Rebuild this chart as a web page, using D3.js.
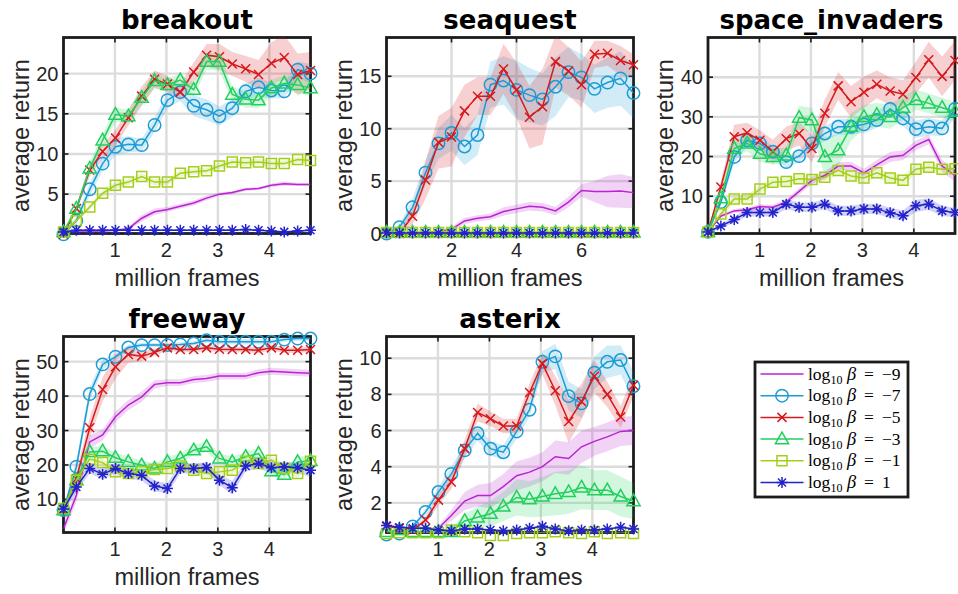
<!DOCTYPE html>
<html>
<head>
<meta charset="utf-8">
<script src="https://cdn.jsdelivr.net/npm/d3@7"></script>
<style>
  body { margin: 0; background: #fff; }
  svg { display: block; }
</style>
</head>
<body>
<div id="chart"></div>
<script>
// frame axis (million frames)
const frames48 = [0, 0.25, 0.51, 0.76, 1.01, 1.26, 1.52, 1.77, 2.02, 2.27, 2.53, 2.78, 3.03, 3.28, 3.54, 3.79, 4.04, 4.29, 4.55, 4.8];
const frames76 = [0, 0.4, 0.8, 1.2, 1.6, 2.0, 2.4, 2.8, 3.2, 3.6, 4.0, 4.4, 4.8, 5.2, 5.6, 6.0, 6.4, 6.8, 7.2, 7.6];

const betaLabels = ["\u22129", "\u22127", "\u22125", "\u22123", "\u22121", "1"];
const seriesColors = ["#bb22d4", "#1a9cd6", "#d7191c", "#1fd15b", "#a3cf1b", "#2323cc"];
const seriesMarkers = ["none", "circle", "cross", "triangle", "square", "star"];

const gameNames = ["breakout", "seaquest", "space_invaders", "freeway", "asterix"];
const gameXMax = [4.8, 7.6, 4.8, 4.8, 4.8];
const gameYDomain = [[0.1, 24.5], [0, 18.7], [0.6, 50], [0.4, 57.3], [0.36, 11.2]];
const gameXTicks = [[1, 2, 3, 4], [2, 4, 6], [1, 2, 3, 4], [1, 2, 3, 4], [1, 2, 3, 4]];
const gameYTicks = [[5, 10, 15, 20], [0, 5, 10, 15], [10, 20, 30, 40], [10, 20, 30, 40, 50], [2, 4, 6, 8, 10]];

// mean returns, order: log10 beta = -9, -7, -5, -3, -1, 1
const breakoutMean = [
  [0.3, 0.4, 0.4, 0.4, 0.5, 0.7, 2.0, 2.8, 3.1, 3.5, 3.9, 4.5, 5.0, 5.2, 5.6, 5.7, 6.1, 6.3, 6.2, 6.2],
  [0, 1.7, 5.6, 8.8, 10.9, 11.2, 11.1, 13.6, 16.7, 17.7, 16.0, 15.5, 14.7, 15.7, 17.8, 18.3, 17.9, 17.8, 20.5, 20.0],
  [0, 3.2, 8.0, 10.3, 12.0, 14.5, 17.2, 19.3, 18.7, 17.7, 20.2, 22.3, 22.1, 21.2, 20.6, 19.9, 21.3, 22.0, 19.9, 20.4],
  [0.3, 3.2, 8.2, 11.7, 14.9, 14.7, 17.0, 19.1, 18.6, 19.2, 18.0, 21.5, 21.5, 17.4, 16.8, 16.7, 18.2, 18.8, 18.6, 18.2],
  [0.3, 1.7, 3.4, 5.1, 6.1, 6.5, 7.2, 6.5, 6.5, 7.6, 7.8, 7.9, 8.5, 9.0, 8.9, 9.0, 8.8, 8.8, 9.3, 9.2],
  [0.3, 0.5, 0.5, 0.5, 0.5, 0.5, 0.5, 0.5, 0.5, 0.5, 0.5, 0.5, 0.5, 0.5, 0.6, 0.5, 0.4, 0.3, 0.4, 0.5]
];
const breakoutSpread = [
  [0.1, 0.1, 0.1, 0.1, 0.1, 0.2, 0.4, 0.4, 0.3, 0.3, 0.3, 0.3, 0.2, 0.2, 0.2, 0.2, 0.2, 0.3, 0.2, 0.2],
  [0.2, 0.5, 0.8, 0.9, 1.1, 1.0, 0.8, 0.9, 1.0, 1.1, 1.3, 1.3, 1.2, 1.1, 1.0, 1.2, 1.0, 0.9, 1.0, 1.2],
  [0.2, 0.4, 0.8, 0.9, 1.0, 1.0, 1.2, 1.1, 1.0, 1.0, 1.2, 1.4, 1.6, 1.5, 1.6, 1.8, 2.6, 2.8, 2.6, 2.3],
  [0.2, 0.4, 0.7, 0.8, 0.9, 0.8, 0.9, 0.9, 0.8, 0.8, 0.8, 1.0, 1.1, 1.0, 1.0, 1.0, 1.0, 1.0, 1.0, 1.0],
  [0.1, 0.2, 0.3, 0.4, 0.4, 0.4, 0.4, 0.4, 0.4, 0.4, 0.4, 0.4, 0.4, 0.4, 0.4, 0.4, 0.4, 0.4, 0.4, 0.4],
  [0.1, 0.1, 0.1, 0.1, 0.1, 0.1, 0.1, 0.1, 0.1, 0.1, 0.1, 0.1, 0.1, 0.1, 0.1, 0.1, 0.1, 0.1, 0.1, 0.1]
];

const seaquestMean = [
  [0, 0, 0, 0.1, 0.2, 0.4, 1.2, 1.45, 1.6, 2.1, 2.35, 2.6, 2.5, 2.15, 3.0, 4.1, 4.0, 4.0, 4.05, 3.9],
  [0, 0.6, 2.5, 5.8, 8.6, 9.6, 8.3, 9.4, 14.2, 14.6, 13.7, 13.2, 12.8, 14.0, 15.4, 14.9, 13.8, 14.4, 14.8, 13.4],
  [0, 0, 1.65, 5.1, 8.7, 9.2, 11.7, 13.1, 13.1, 15.7, 13.7, 11.1, 12.1, 16.4, 15.5, 14.2, 17.1, 17.2, 16.5, 16.1],
  [0.1, 0.1, 0.1, 0.1, 0.1, 0.1, 0.1, 0.1, 0.1, 0.1, 0.1, 0.1, 0.1, 0.1, 0.1, 0.1, 0.1, 0.1, 0.1, 0.1],
  [0.1, 0.1, 0.1, 0.1, 0.1, 0.1, 0.1, 0.1, 0.1, 0.1, 0.1, 0.1, 0.1, 0.1, 0.1, 0.1, 0.1, 0.1, 0.1, 0.1],
  [0.05, 0.05, 0.05, 0.05, 0.05, 0.05, 0.05, 0.05, 0.05, 0.05, 0.05, 0.05, 0.05, 0.05, 0.05, 0.05, 0.05, 0.05, 0.05, 0.05]
];
const seaquestSpread = [
  [0, 0, 0, 0.1, 0.1, 0.2, 0.3, 0.3, 0.3, 0.4, 0.4, 0.4, 0.4, 0.4, 0.5, 0.6, 1.0, 1.5, 1.6, 1.5],
  [0.1, 0.3, 0.8, 1.2, 1.5, 1.7, 1.8, 1.9, 2.2, 2.3, 2.8, 2.6, 2.5, 2.8, 2.4, 2.2, 2.3, 2.4, 2.6, 2.4],
  [0.1, 0.3, 0.8, 1.8, 2.5, 2.8, 2.5, 1.8, 1.8, 2.4, 2.6, 3.0, 3.6, 2.5, 2.3, 2.2, 1.3, 1.2, 1.4, 1.0],
  [0.1, 0.1, 0.1, 0.1, 0.1, 0.1, 0.1, 0.1, 0.1, 0.1, 0.1, 0.1, 0.1, 0.1, 0.1, 0.1, 0.1, 0.1, 0.1, 0.1],
  [0.1, 0.1, 0.1, 0.1, 0.1, 0.1, 0.1, 0.1, 0.1, 0.1, 0.1, 0.1, 0.1, 0.1, 0.1, 0.1, 0.1, 0.1, 0.1, 0.1],
  [0.05, 0.05, 0.05, 0.05, 0.05, 0.05, 0.05, 0.05, 0.05, 0.05, 0.05, 0.05, 0.05, 0.05, 0.05, 0.05, 0.05, 0.05, 0.05, 0.05]
];

const spaceMean = [
  [1.0, 5.0, 6.3, 6.6, 7.4, 7.2, 8.5, 11.2, 14.0, 15.2, 17.6, 17.6, 15.9, 17.9, 19.9, 20.3, 22.8, 24.3, 17.6, 15.2],
  [1.0, 8.5, 19.9, 24.1, 23.3, 21.2, 18.6, 20.1, 23.3, 25.8, 27.5, 27.5, 28.1, 29.2, 32.0, 29.6, 26.9, 27.5, 27.1, 32.0],
  [1.0, 12.3, 25.0, 26.0, 24.1, 21.2, 24.5, 25.8, 22.0, 30.9, 37.8, 33.8, 36.2, 38.2, 36.5, 35.7, 39.9, 44.4, 40.2, 44.2],
  [1.0, 9.5, 22.0, 23.3, 20.7, 19.9, 20.3, 29.8, 29.2, 19.9, 21.6, 27.5, 30.0, 30.5, 30.0, 32.3, 34.3, 33.4, 32.3, 31.3],
  [1.0, 5.5, 9.3, 9.3, 11.8, 13.5, 13.7, 14.4, 14.2, 14.8, 16.5, 15.1, 14.6, 15.9, 14.6, 14.0, 16.8, 17.3, 16.8, 16.9],
  [1.0, 2.5, 4.1, 5.9, 5.9, 5.9, 8.0, 7.2, 7.2, 8.0, 6.3, 6.3, 6.8, 6.8, 5.8, 5.1, 7.6, 8.0, 6.3, 5.9]
];
const spaceSpread = [
  [0.2, 0.5, 0.5, 0.6, 0.6, 0.6, 0.7, 0.8, 0.9, 1.0, 1.0, 1.0, 1.0, 1.2, 1.3, 1.2, 1.2, 1.2, 1.5, 1.5],
  [0.2, 1.0, 1.5, 1.5, 1.5, 1.5, 1.5, 1.5, 1.5, 1.8, 2.0, 2.0, 2.2, 2.0, 2.0, 2.0, 2.2, 2.2, 2.0, 2.0],
  [0.2, 1.5, 3.0, 2.5, 2.5, 3.0, 3.0, 3.0, 3.5, 3.5, 3.5, 4.0, 4.0, 3.5, 3.5, 3.5, 4.0, 4.5, 5.0, 5.0],
  [0.2, 1.5, 2.0, 2.0, 2.0, 2.0, 2.0, 3.0, 3.0, 5.0, 4.0, 3.5, 3.0, 3.0, 3.0, 3.0, 2.5, 2.5, 2.5, 2.5],
  [0.2, 0.8, 1.0, 1.0, 1.0, 1.0, 1.0, 1.0, 1.0, 1.0, 1.2, 1.2, 1.2, 1.3, 1.3, 1.3, 1.2, 1.2, 1.2, 1.2],
  [0.1, 0.5, 0.8, 1.0, 1.0, 1.0, 1.2, 1.2, 1.2, 1.3, 1.3, 1.3, 1.3, 1.3, 1.3, 1.3, 1.5, 1.5, 1.3, 1.2]
];

const freewayMean = [
  [1.5, 11.2, 26.7, 28.7, 34.0, 37.4, 39.8, 43.4, 43.9, 43.9, 44.8, 45.1, 45.8, 45.8, 45.8, 46.8, 47.2, 47.0, 46.8, 46.6],
  [6.9, 19.5, 40.6, 49.2, 51.4, 54.1, 54.8, 54.8, 54.8, 55.0, 55.3, 56.2, 55.8, 55.8, 55.8, 55.8, 55.8, 56.4, 56.7, 56.7],
  [6.9, 16.0, 30.8, 41.9, 48.5, 52.1, 51.6, 52.7, 54.0, 53.5, 53.5, 54.0, 53.6, 53.5, 53.5, 53.3, 54.0, 53.3, 53.3, 53.5],
  [6.9, 15.6, 23.8, 24.0, 22.1, 20.9, 19.9, 19.0, 20.9, 21.9, 24.3, 25.3, 21.9, 20.9, 22.4, 23.3, 18.2, 17.2, 20.9, 21.2],
  [7.4, 15.6, 21.7, 20.7, 18.0, 17.5, 18.0, 18.7, 19.0, 19.7, 18.5, 17.5, 18.0, 18.5, 21.1, 20.4, 21.4, 19.0, 17.5, 21.1],
  [7.2, 13.6, 19.0, 17.3, 19.0, 17.5, 17.0, 13.9, 13.2, 19.0, 19.0, 19.3, 15.6, 13.4, 19.7, 20.4, 19.2, 19.5, 19.2, 18.5]
];
const freewaySpread = [
  [1.5, 2.0, 2.0, 1.5, 1.5, 1.5, 1.5, 1.2, 1.0, 1.0, 1.0, 1.0, 1.0, 1.0, 1.0, 1.0, 1.0, 1.0, 1.0, 1.0],
  [1.0, 2.0, 2.0, 1.5, 1.0, 0.8, 0.6, 0.6, 0.6, 0.6, 0.6, 0.8, 0.8, 0.8, 0.8, 0.8, 0.8, 0.6, 0.6, 0.6],
  [1.0, 2.0, 3.0, 3.5, 3.5, 2.5, 1.5, 1.0, 0.8, 0.8, 0.8, 0.8, 0.8, 0.8, 0.8, 0.8, 0.8, 0.8, 0.8, 0.8],
  [1.0, 1.5, 1.5, 1.5, 1.5, 1.5, 1.5, 1.5, 1.5, 1.5, 1.5, 1.5, 1.5, 1.5, 1.5, 1.5, 1.5, 1.5, 1.5, 1.5],
  [1.0, 1.2, 1.2, 1.2, 1.2, 1.2, 1.2, 1.2, 1.2, 1.2, 1.2, 1.2, 1.2, 1.2, 1.2, 1.2, 1.2, 1.2, 1.2, 1.2],
  [1.0, 1.5, 1.5, 1.5, 1.5, 1.5, 1.5, 1.5, 1.5, 1.5, 1.5, 1.5, 1.5, 2.0, 1.5, 1.5, 1.5, 1.5, 1.5, 2.0]
];

const asterixMean = [
  [0.4, 0.4, 0.4, 0.4, 0.6, 1.3, 2.1, 2.4, 2.4, 2.9, 3.5, 3.7, 4.0, 4.55, 4.45, 5.1, 5.4, 5.65, 5.95, 6.0],
  [0.25, 0.3, 0.7, 1.5, 2.6, 3.6, 4.9, 5.85, 5.0, 4.8, 5.95, 7.15, 9.8, 10.1, 7.9, 7.5, 9.2, 9.8, 9.9, 8.45],
  [0.7, 0.6, 0.5, 1.05, 2.15, 3.15, 5.0, 7.0, 6.65, 6.25, 6.25, 8.1, 9.7, 8.2, 6.5, 7.6, 9.0, 8.0, 6.75, 8.5],
  [0.4, 0.5, 0.4, 0.4, 0.4, 0.4, 1.0, 1.2, 1.4, 1.8, 2.3, 2.2, 2.35, 2.5, 2.6, 2.85, 2.7, 2.7, 2.35, 2.1],
  [0.3, 0.35, 0.35, 0.35, 0.35, 0.5, 0.4, 0.35, 0.2, 0.2, 0.3, 0.35, 0.35, 0.4, 0.35, 0.3, 0.4, 0.3, 0.35, 0.3],
  [0.75, 0.65, 0.6, 0.6, 0.5, 0.45, 0.55, 0.55, 0.5, 0.45, 0.5, 0.6, 0.7, 0.55, 0.45, 0.5, 0.5, 0.55, 0.65, 0.55]
];
const asterixSpread = [
  [0.05, 0.05, 0.05, 0.05, 0.1, 0.3, 0.5, 0.6, 0.7, 0.7, 0.8, 0.8, 0.8, 0.9, 0.9, 0.9, 0.8, 0.8, 0.8, 0.8],
  [0.05, 0.05, 0.1, 0.2, 0.3, 0.4, 0.4, 0.4, 0.4, 0.4, 0.4, 0.4, 0.6, 0.7, 0.8, 0.8, 0.9, 0.9, 0.8, 0.8],
  [0.05, 0.05, 0.1, 0.2, 0.3, 0.4, 0.5, 0.5, 0.4, 0.4, 0.4, 0.5, 0.6, 0.8, 1.2, 1.0, 0.9, 0.7, 0.6, 0.6],
  [0.05, 0.05, 0.05, 0.05, 0.1, 0.2, 0.4, 0.6, 0.7, 0.8, 1.0, 1.0, 1.1, 1.2, 1.2, 1.2, 1.1, 1.1, 1.1, 1.0],
  [0.05, 0.05, 0.05, 0.05, 0.05, 0.05, 0.05, 0.05, 0.05, 0.05, 0.05, 0.05, 0.05, 0.05, 0.05, 0.05, 0.05, 0.05, 0.05, 0.05],
  [0.05, 0.05, 0.05, 0.05, 0.05, 0.05, 0.05, 0.05, 0.05, 0.05, 0.05, 0.05, 0.05, 0.05, 0.05, 0.05, 0.05, 0.05, 0.05, 0.05]
];

const gameMeans = [breakoutMean, seaquestMean, spaceMean, freewayMean, asterixMean];
const gameSpreads = [breakoutSpread, seaquestSpread, spaceSpread, freewaySpread, asterixSpread];
const gameFrames = [frames48, frames76, frames48, frames48, frames48];

// layout
const width = 958, height = 594;
const colLeft = [63.5, 386.5, 708];
const rowTop = [37.5, 336.5];
const boxW = 247, boxH = 196;
const panelPos = [[0, 0], [1, 0], [2, 0], [0, 1], [1, 1]];

const svg = d3.select('#chart')
  .append('svg')
  .attr('width', width)
  .attr('height', height);

function markerPath(type) {
  if (type === 'cross') return 'M-4.5,-4.5L4.5,4.5M-4.5,4.5L4.5,-4.5';
  if (type === 'triangle') return 'M0,-7L6.6,4.6L-6.6,4.6Z';
  if (type === 'square') return 'M-5,-5H5V5H-5Z';
  if (type === 'star') return 'M-5.5,0H5.5M0,-5.5V5.5M-4,-4L4,4M-4,4L4,-4';
  return null;
}

function drawMarker(g, type, color, x, y) {
  if (type === 'none') return;
  if (type === 'circle') {
    g.append('circle')
      .attr('cx', x).attr('cy', y).attr('r', 6.2)
      .attr('fill', 'none').attr('stroke', color).attr('stroke-width', 1.5);
  } else {
    g.append('path')
      .attr('d', markerPath(type))
      .attr('transform', `translate(${x},${y})`)
      .attr('fill', 'none').attr('stroke', color).attr('stroke-width', 1.5);
  }
}

const axisColor = '#1c1c1c';
const labelFont = '"Liberation Sans", Arial, sans-serif';

gameNames.forEach((name, gi) => {
  const left = colLeft[panelPos[gi][0]];
  const top = rowTop[panelPos[gi][1]];
  const frames = gameFrames[gi];

  const xScale = d3.scaleLinear().domain([0, gameXMax[gi]]).range([left, left + boxW]);
  const yScale = d3.scaleLinear().domain(gameYDomain[gi]).range([top + boxH, top]);

  const panel = svg.append('g');

  panel.append('clipPath').attr('id', 'clip' + gi)
    .append('rect')
    .attr('x', left).attr('y', top).attr('width', boxW).attr('height', boxH);

  // grid
  const grid = panel.append('g').attr('stroke', '#dcdcdc').attr('stroke-width', 2.4);
  gameXTicks[gi].forEach(t => {
    grid.append('line').attr('x1', xScale(t)).attr('x2', xScale(t)).attr('y1', top).attr('y2', top + boxH);
  });
  gameYTicks[gi].forEach(t => {
    grid.append('line').attr('y1', yScale(t)).attr('y2', yScale(t)).attr('x1', left).attr('x2', left + boxW);
  });

  // axes box and inward ticks (under the data, as in the original)
  const ticks = panel.append('g').attr('stroke', axisColor).attr('stroke-width', 1.6);
  gameXTicks[gi].forEach(t => {
    ticks.append('line').attr('x1', xScale(t)).attr('x2', xScale(t)).attr('y1', top + boxH).attr('y2', top + boxH - 5);
    ticks.append('line').attr('x1', xScale(t)).attr('x2', xScale(t)).attr('y1', top).attr('y2', top + 5);
  });
  gameYTicks[gi].forEach(t => {
    ticks.append('line').attr('y1', yScale(t)).attr('y2', yScale(t)).attr('x1', left).attr('x2', left + 5);
    ticks.append('line').attr('y1', yScale(t)).attr('y2', yScale(t)).attr('x1', left + boxW).attr('x2', left + boxW - 5);
  });
  panel.append('rect')
    .attr('x', left).attr('y', top).attr('width', boxW).attr('height', boxH)
    .attr('fill', 'none').attr('stroke', axisColor).attr('stroke-width', 2.8);

  const area = d3.area()
    .x(d => xScale(d.x))
    .y0(d => yScale(d.lo))
    .y1(d => yScale(d.hi));
  const line = d3.line()
    .x(d => xScale(d.x))
    .y(d => yScale(d.y));

  const means = gameMeans[gi];
  const spreads = gameSpreads[gi];

  const bands = panel.append('g').attr('clip-path', `url(#clip${gi})`);
  means.forEach((vals, si) => {
    const pts = vals.map((v, i) => ({ x: frames[i], lo: v - spreads[si][i], hi: v + spreads[si][i] }));
    bands.append('path')
      .attr('d', area(pts))
      .attr('fill', seriesColors[si])
      .attr('fill-opacity', 0.2)
      .attr('stroke', 'none');
  });

  means.forEach((vals, si) => {
    const pts = vals.map((v, i) => ({ x: frames[i], y: v }));
    panel.append('path')
      .attr('clip-path', `url(#clip${gi})`)
      .attr('d', line(pts))
      .attr('fill', 'none')
      .attr('stroke', seriesColors[si])
      .attr('stroke-width', 1.5);
    const mg = panel.append('g');
    pts.forEach(p => drawMarker(mg, seriesMarkers[si], seriesColors[si], xScale(p.x), yScale(p.y)));
  });

  // tick labels
  gameXTicks[gi].forEach(t => {
    panel.append('text')
      .attr('x', xScale(t)).attr('y', top + boxH + 23)
      .attr('text-anchor', 'middle')
      .attr('font-family', labelFont).attr('font-size', 20).attr('fill', '#262626')
      .text(t);
  });
  gameYTicks[gi].forEach(t => {
    panel.append('text')
      .attr('x', left - 5).attr('y', yScale(t))
      .attr('dy', '0.35em')
      .attr('text-anchor', 'end')
      .attr('font-family', labelFont).attr('font-size', 20).attr('fill', '#262626')
      .text(t);
  });

  // axis labels
  panel.append('text')
    .attr('x', left + boxW / 2).attr('y', top + boxH + 52)
    .attr('text-anchor', 'middle')
    .attr('font-family', labelFont).attr('font-size', 23.5).attr('fill', '#262626')
    .text('million frames');
  panel.append('text')
    .attr('transform', `translate(${left - 43},${top + boxH / 2}) rotate(-90)`)
    .attr('dy', '0.35em')
    .attr('text-anchor', 'middle')
    .attr('font-family', labelFont).attr('font-size', 23.5).attr('fill', '#262626')
    .text('average return');

  // title
  panel.append('text')
    .attr('x', left + boxW / 2).attr('y', top - 9)
    .attr('text-anchor', 'middle')
    .attr('font-family', '"DejaVu Sans", sans-serif').attr('font-weight', 'bold')
    .attr('font-size', 26).attr('fill', '#000')
    .text(name);
});

// legend
const legLeft = 755, legTop = 362, legW = 153, legH = 135;
const legend = svg.append('g');
legend.append('rect')
  .attr('x', legLeft).attr('y', legTop).attr('width', legW).attr('height', legH)
  .attr('fill', '#fff').attr('stroke', '#1c1c1c').attr('stroke-width', 2.8);

const serif = '"Liberation Serif", "Times New Roman", serif';
betaLabels.forEach((lab, si) => {
  const y = 374 + si * 21.7;
  legend.append('line')
    .attr('x1', 760.5).attr('x2', 803.5).attr('y1', y).attr('y2', y)
    .attr('stroke', seriesColors[si]).attr('stroke-width', 1.5);
  drawMarker(legend, seriesMarkers[si], seriesColors[si], 782, y);

  const t = legend.append('text')
    .attr('x', 808).attr('y', y + 5.5)
    .attr('font-family', serif).attr('font-size', 17.5).attr('fill', '#000');
  t.append('tspan').text('log');
  t.append('tspan').attr('font-size', 12).attr('dy', 4).text('10');
  t.append('tspan').attr('x', 847).attr('dy', -4).attr('font-style', 'italic').attr('font-size', 18.5).text('\u03b2');
  t.append('tspan').attr('x', 864).text('=');
  t.append('tspan').attr('x', 882).text(lab);
});
</script>
</body>
</html>
